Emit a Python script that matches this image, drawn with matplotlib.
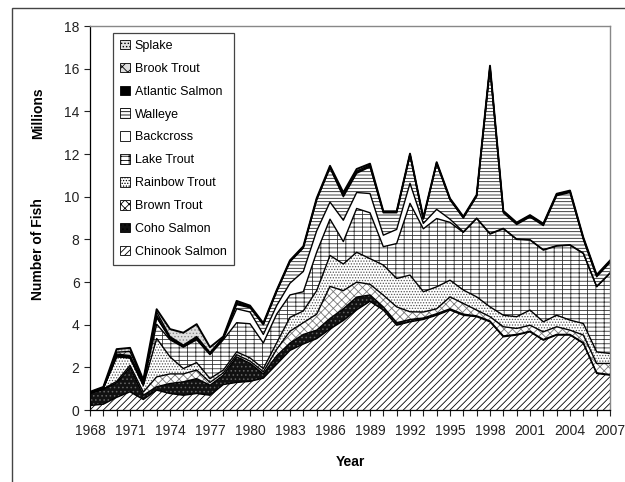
import matplotlib
matplotlib.use('Agg')
import matplotlib.pyplot as plt
from matplotlib.patches import Patch, Rectangle
import numpy as np

plt.rcParams['font.family'] = ['Liberation Sans', 'DejaVu Sans']
plt.rcParams['hatch.linewidth'] = 0.6

years = list(range(1968, 2008))

chinook = [0.22, 0.28, 0.60, 0.86, 0.50, 0.94, 0.78, 0.70, 0.78, 0.70,
           1.20, 1.30, 1.35, 1.50, 2.15, 2.80, 3.10, 3.35, 3.80, 4.20,
           4.70, 5.10, 4.69, 3.98, 4.14, 4.25, 4.45, 4.69, 4.45, 4.38,
           4.14, 3.44, 3.52, 3.67, 3.28, 3.52, 3.52, 3.13, 1.72, 1.64]
coho = [0.56, 0.70, 0.68, 1.14, 0.20, 0.16, 0.47, 0.63, 0.70, 0.47,
        0.44, 1.20, 0.85, 0.20, 0.40, 0.35, 0.45, 0.40, 0.50, 0.55,
        0.60, 0.30, 0.15, 0.12, 0.11, 0.07, 0.07, 0.06, 0.05, 0.04,
        0.04, 0.04, 0.03, 0.03, 0.03, 0.03, 0.03, 0.03, 0.03, 0.03]
brown = [0.02, 0.02, 0.07, 0.10, 0.15, 0.46, 0.45, 0.37, 0.40, 0.13,
         0.11, 0.10, 0.10, 0.10, 0.30, 0.55, 0.55, 0.75, 1.50, 0.85,
         0.70, 0.50, 0.55, 0.74, 0.36, 0.28, 0.23, 0.56, 0.50, 0.27,
         0.20, 0.43, 0.28, 0.28, 0.36, 0.36, 0.20, 0.36, 0.44, 0.52]
rainbow = [0.02, 0.03, 1.15, 0.35, 0.30, 1.80, 0.80, 0.25, 0.35, 0.18,
           0.13, 0.13, 0.15, 0.15, 0.30, 0.65, 0.55, 1.10, 1.45, 1.25,
           1.40, 1.20, 1.41, 1.33, 1.72, 0.95, 1.03, 0.78, 0.63, 0.62,
           0.46, 0.54, 0.55, 0.71, 0.47, 0.54, 0.47, 0.54, 0.54, 0.47]
lake = [0.00, 0.00, 0.00, 0.00, 0.05, 0.67, 0.80, 1.00, 1.07, 1.12,
        1.42, 1.37, 1.60, 1.20, 1.35, 1.05, 0.90, 1.80, 1.70, 1.05,
        2.05, 2.15, 0.86, 1.64, 3.36, 2.95, 3.20, 2.71, 2.70, 3.67,
        3.41, 4.05, 3.62, 3.28, 3.36, 3.24, 3.51, 3.28, 3.05, 3.75]
backcross = [0.00, 0.00, 0.05, 0.05, 0.05, 0.32, 0.05, 0.03, 0.03, 0.03,
             0.05, 0.65, 0.55, 0.40, 0.40, 0.55, 0.95, 1.00, 0.80, 1.00,
             0.75, 0.90, 0.54, 0.66, 0.94, 0.25, 0.43, 0.15, 0.03, 0.02,
             0.03, 0.02, 0.02, 0.02, 0.02, 0.02, 0.02, 0.02, 0.02, 0.02]
walleye = [0.00, 0.00, 0.00, 0.00, 0.00, 0.00, 0.03, 0.02, 0.03, 0.03,
           0.03, 0.20, 0.20, 0.45, 0.65, 1.00, 1.10, 1.45, 1.60, 1.10,
           0.90, 1.25, 1.05, 0.78, 1.32, 0.20, 2.14, 0.90, 0.64, 1.02,
           7.77, 0.73, 0.68, 1.06, 1.13, 2.34, 2.45, 0.64, 0.45, 0.49]
atlantic = [0.01, 0.02, 0.08, 0.06, 0.05, 0.10, 0.02, 0.02, 0.04, 0.02,
            0.02, 0.05, 0.03, 0.03, 0.03, 0.03, 0.03, 0.03, 0.03, 0.05,
            0.05, 0.05, 0.03, 0.03, 0.03, 0.03, 0.03, 0.03, 0.03, 0.03,
            0.05, 0.05, 0.05, 0.05, 0.05, 0.05, 0.05, 0.05, 0.05, 0.05]
brook = [0.01, 0.02, 0.09, 0.19, 0.05, 0.15, 0.05, 0.03, 0.05, 0.02,
         0.02, 0.05, 0.03, 0.02, 0.02, 0.02, 0.02, 0.02, 0.02, 0.05,
         0.05, 0.05, 0.02, 0.02, 0.02, 0.02, 0.02, 0.02, 0.02, 0.02,
         0.02, 0.02, 0.02, 0.02, 0.02, 0.02, 0.02, 0.02, 0.02, 0.02]
splake = [0.02, 0.02, 0.14, 0.17, 0.07, 0.13, 0.35, 0.58, 0.58, 0.25,
          0.03, 0.07, 0.04, 0.03, 0.02, 0.02, 0.03, 0.03, 0.05, 0.10,
          0.10, 0.05, 0.02, 0.02, 0.02, 0.02, 0.02, 0.02, 0.02, 0.02,
          0.02, 0.02, 0.02, 0.02, 0.02, 0.02, 0.02, 0.02, 0.02, 0.02]

# bottom to top: label, values, facecolor, hatch colour, hatch
layers = [
    ('Chinook Salmon', chinook, 'white', 'black', '/////'),
    ('Coho Salmon', coho, '#111111', '#666666', '....'),
    ('Brown Trout', brown, 'white', '#777777', 'xxxx'),
    ('Rainbow Trout', rainbow, 'white', '#555555', '......'),
    ('Lake Trout', lake, 'white', '#333333', '++--'),
    ('Backcross', backcross, 'white', 'white', ''),
    ('Walleye', walleye, 'white', '#222222', '-----'),
    ('Atlantic Salmon', atlantic, 'black', 'black', ''),
    ('Brook Trout', brook, '#dddddd', '#333333', 'xxx'),
    ('Splake', splake, '#e0e0e0', '#888888', '.....'),
]

fig = plt.figure(figsize=(6.25, 4.82), dpi=100)
ax = fig.add_axes([0.144, 0.149, 0.832, 0.797])

x = np.array(years)
base = np.zeros(len(years))
handles = []
for i, (name, vals, fc, hc, hatch) in enumerate(layers):
    top = base + np.array(vals)
    ax.fill_between(x, base, top, facecolor=fc, edgecolor=hc, hatch=hatch, linewidth=0)
    lw = 1.4 if i == len(layers) - 1 else 1.0
    ax.plot(x, top, color='black', lw=lw)
    handles.append(Patch(facecolor=fc, edgecolor='black', hatch=hatch, linewidth=0.6, label=name))
    base = top

ax.set_xlim(1968, 2007)
ax.set_ylim(0, 18)
ax.set_yticks(range(0, 19, 2))
ax.set_xticks(range(1968, 2008, 3))
ax.set_xticks(years, minor=True)
ax.tick_params(axis='both', which='both', direction='out', length=4, width=0.8, labelsize=10, colors='#222222')
ax.tick_params(axis='x', pad=6)

for s in ['top', 'right']:
    ax.spines[s].set_color('#888888')
    ax.spines[s].set_linewidth(1)
for s in ['left', 'bottom']:
    ax.spines[s].set_color('black')
    ax.spines[s].set_linewidth(0.9)

leg = ax.legend(handles=handles[::-1], loc='upper left', bbox_to_anchor=(0.044, 0.982),
                fontsize=9, handlelength=0.8, handleheight=0.8, handletextpad=0.4,
                labelspacing=0.86, borderpad=0.55, fancybox=False, framealpha=1,
                edgecolor='#444444', borderaxespad=0)
leg.get_frame().set_linewidth(0.9)

fig.text(350 / 625, 1 - 462 / 482, 'Year', ha='center', va='center', fontsize=10, fontweight='bold')
fig.text(38 / 625, 1 - 249 / 482, 'Number of Fish', rotation=90, ha='center', va='center',
         fontsize=10, fontweight='bold')
fig.text(38 / 625, 1 - 113 / 482, 'Millions', rotation=90, ha='center', va='center',
         fontsize=10, fontweight='bold')

# outer chart border, cut off by the image edge
fig.patches.append(Rectangle((12 / 625, -0.2), 1.2, 1.2 - 8 / 482, transform=fig.transFigure,
                             fill=False, edgecolor='#444444', linewidth=1))

fig.savefig('out.png', dpi=100)
